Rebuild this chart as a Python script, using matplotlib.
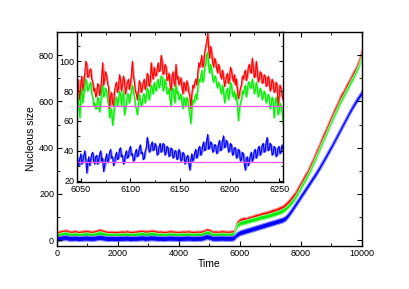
import numpy as np
import matplotlib
matplotlib.use("Agg")
import matplotlib.pyplot as plt
from matplotlib.ticker import MultipleLocator

# main panel: centre of each noisy band every 100 time units
main_start, main_step = 0, 100
main_red = [29, 31, 34, 36, 31, 30, 33, 29, 31, 32,
            33, 30, 31, 34, 38, 35, 31, 29, 30, 28,
            29, 31, 30, 32, 29, 30, 31, 33, 34, 31,
            32, 35, 33, 30, 31, 29, 30, 32, 31, 30,
            29, 31, 30, 32, 30, 29, 31, 30, 33, 40,
            38, 30, 31, 30, 32, 31, 30, 31, 33, 72,
            84, 88, 87, 93, 96, 101, 104, 109, 112, 115,
            120, 125, 128, 135, 140, 152, 165, 182, 198, 222,
            245, 270, 291, 320, 347, 380, 409, 443, 470, 502,
            532, 562, 589, 620, 641, 668, 691, 718, 741, 775, 818]
main_green = [21, 23, 26, 28, 23, 22, 25, 21, 23, 24,
              25, 22, 23, 26, 30, 27, 23, 21, 22, 20,
              21, 23, 22, 24, 21, 22, 23, 25, 26, 23,
              24, 27, 25, 22, 23, 21, 22, 24, 23, 22,
              21, 23, 22, 24, 22, 21, 23, 22, 25, 32,
              30, 22, 23, 22, 24, 23, 22, 23, 25, 62,
              74, 77, 80, 84, 88, 91, 95, 99, 102, 105,
              109, 113, 117, 122, 128, 137, 150, 165, 183, 205,
              229, 252, 276, 302, 331, 360, 392, 422, 452, 482,
              514, 543, 572, 600, 625, 650, 676, 700, 726, 756, 798]
main_blue = [7, 8, 10, 11, 8, 8, 9, 7, 8, 9,
             9, 8, 8, 10, 12, 10, 8, 7, 8, 7,
             7, 8, 8, 9, 7, 8, 8, 9, 10, 8,
             9, 10, 9, 8, 8, 7, 8, 9, 8, 8,
             7, 8, 8, 9, 8, 7, 8, 8, 10, 15,
             13, 8, 8, 8, 9, 8, 8, 8, 10, 24,
             32, 36, 40, 44, 48, 52, 56, 60, 64, 68,
             72, 76, 80, 84, 88, 96, 112, 130, 150, 170,
             190, 210, 230, 250, 270, 290, 312, 335, 358, 382,
             405, 430, 455, 480, 505, 530, 555, 578, 600, 620, 640]
band_half = {"red": 11, "green": 9, "blue": 11}

# inset: one sample per time unit starting at 6046
inset_start, inset_step = 6046, 1
inset_red = [82, 88, 78, 74, 86, 90, 80, 85, 92, 100, 98, 89, 90, 94, 95, 88, 86, 80, 82, 76,
             78, 85, 84, 77, 80, 90, 99, 84, 88, 93, 90, 85, 82, 68, 76, 79, 72, 70, 80, 84,
             86, 79, 82, 91, 88, 80, 84, 90, 87, 78, 82, 86, 88, 81, 85, 91, 100, 90, 86, 80,
             78, 74, 80, 87, 85, 79, 82, 86, 88, 81, 84, 92, 90, 83, 86, 99, 92, 88, 96, 91,
             90, 95, 99, 93, 94, 104, 100, 91, 92, 98, 96, 87, 88, 92, 84, 80, 90, 93, 86, 83,
             98, 88, 90, 84, 86, 89, 82, 78, 86, 83, 80, 87, 84, 79, 76, 68, 78, 84, 82, 86,
             88, 84, 92, 99, 96, 100, 104, 96, 98, 106, 110, 113, 119, 108, 102, 110, 106, 99, 96, 102,
             100, 95, 92, 98, 95, 90, 88, 94, 90, 83, 86, 90, 92, 85, 88, 96, 94, 89, 86, 91,
             84, 88, 80, 75, 78, 82, 84, 90, 88, 92, 94, 87, 90, 96, 98, 93, 92, 102, 96, 89,
             90, 100, 94, 86, 88, 93, 92, 85, 86, 91, 90, 83, 84, 90, 88, 80, 82, 88, 86, 79,
             80, 86, 84, 70, 76, 84, 82, 77, 74]
inset_green = [74, 78, 70, 62, 76, 82, 72, 78, 82, 88, 86, 80, 82, 84, 86, 78, 76, 70, 72, 68,
               68, 76, 74, 66, 72, 80, 84, 76, 78, 82, 80, 74, 70, 62, 66, 68, 57, 62, 70, 74,
               76, 70, 74, 80, 78, 70, 76, 80, 64, 68, 72, 78, 78, 72, 76, 80, 84, 80, 76, 70,
               68, 64, 70, 78, 74, 70, 72, 78, 78, 72, 76, 82, 80, 74, 78, 84, 82, 78, 86, 82,
               80, 86, 88, 82, 84, 90, 90, 80, 82, 88, 84, 78, 78, 82, 74, 70, 80, 82, 76, 72,
               84, 78, 80, 74, 76, 78, 72, 68, 76, 72, 70, 76, 74, 68, 64, 58, 68, 74, 72, 76,
               78, 74, 82, 88, 86, 90, 94, 86, 88, 96, 98, 104, 106, 96, 92, 98, 94, 88, 86, 90,
               90, 84, 82, 86, 84, 80, 78, 84, 80, 72, 76, 80, 82, 74, 78, 86, 84, 78, 76, 80,
               74, 78, 70, 60, 68, 72, 74, 80, 78, 82, 84, 76, 80, 86, 86, 82, 82, 88, 84, 78,
               80, 86, 82, 76, 78, 82, 80, 74, 76, 80, 78, 72, 74, 78, 76, 68, 70, 76, 74, 62,
               70, 76, 72, 64, 66, 72, 70, 66, 58]
inset_blue = [36, 33, 30, 35, 38, 31, 33, 37, 40, 34, 25, 32, 36, 30, 34, 38, 39, 33, 31, 36,
              37, 31, 33, 38, 40, 33, 35, 26, 30, 35, 38, 32, 34, 39, 41, 35, 36, 30, 32, 37,
              39, 34, 35, 41, 42, 36, 37, 31, 33, 38, 40, 35, 36, 41, 43, 37, 38, 33, 34, 39,
              41, 36, 37, 42, 44, 38, 39, 34, 35, 40, 42, 49, 45, 39, 40, 44, 46, 40, 41, 45,
              43, 37, 38, 43, 45, 39, 40, 45, 44, 37, 39, 43, 42, 36, 37, 42, 41, 35, 36, 40,
              40, 34, 35, 41, 39, 33, 34, 39, 38, 31, 33, 36, 37, 31, 27, 34, 38, 33, 35, 39,
              41, 35, 37, 42, 43, 37, 39, 44, 46, 40, 41, 47, 51, 41, 42, 46, 45, 39, 40, 44,
              44, 38, 39, 45, 47, 40, 41, 47, 50, 42, 43, 47, 45, 39, 40, 45, 44, 37, 38, 42,
              42, 35, 36, 41, 40, 33, 34, 39, 38, 31, 27, 35, 36, 30, 33, 37, 39, 33, 35, 40,
              41, 35, 37, 42, 43, 37, 39, 44, 45, 39, 40, 46, 49, 40, 41, 45, 44, 37, 38, 43,
              42, 36, 37, 42, 43, 38, 39, 44, 41]
thresholds = [70, 32.5]

COLORS = {"red": "#ff0000", "green": "#00ee00", "blue": "#0000ff"}
PALE = {"red": "#ff8a8a", "green": "#8af58a", "blue": "#8a8aff"}
plt.rcParams["font.family"] = ["Liberation Sans", "DejaVu Sans"]


def envelope(v, k=3):
    # running min / max of the samples, so the dense noise reads as a filled band
    p = np.pad(np.asarray(v, dtype=float), k // 2, mode="edge")
    w = np.lib.stride_tricks.sliding_window_view(p, k)
    return w.min(axis=1), w.max(axis=1)


fig = plt.figure(figsize=(4.09, 2.89), dpi=100)
ax = fig.add_axes([0.139, 0.149, 0.746, 0.740])
for name, vals in (("red", main_red), ("green", main_green), ("blue", main_blue)):
    v = np.array(vals, dtype=float)
    t = main_start + main_step * np.arange(len(v))
    ax.fill_between(t, v - band_half[name], v + band_half[name], facecolor=COLORS[name],
                    edgecolor=PALE[name], lw=0.8)
ax.set_xlim(0, 10000)
ax.set_ylim(-25, 900)
ax.xaxis.set_major_locator(MultipleLocator(2000))
ax.xaxis.set_minor_locator(MultipleLocator(1000))
ax.yaxis.set_major_locator(MultipleLocator(200))
ax.yaxis.set_minor_locator(MultipleLocator(100))
ax.tick_params(which="both", direction="in", top=True, right=True, labelsize=6.5, pad=2)
ax.tick_params(which="major", length=3.5)
ax.tick_params(which="minor", length=2)
ax.set_xlabel("Time", fontsize=7.5, labelpad=1)
ax.set_ylabel("Nucleous size", fontsize=7.5, labelpad=2)
for s in ax.spines.values():
    s.set_linewidth(1.0)

ins = fig.add_axes([0.188, 0.370, 0.504, 0.519])
for name, vals in (("red", inset_red), ("green", inset_green), ("blue", inset_blue)):
    ti = inset_start + inset_step * np.arange(len(vals))
    lo, hi = envelope(vals)
    ins.fill_between(ti, lo, hi, color=PALE[name], lw=0)
    ins.plot(ti, vals, color=COLORS[name], lw=0.8)
for y in thresholds:
    ins.axhline(y, color="#ff55ff", lw=0.9)
ins.set_xlim(6046, 6254)
ins.set_ylim(19, 119.5)
ins.xaxis.set_major_locator(MultipleLocator(50))
ins.xaxis.set_minor_locator(MultipleLocator(25))
ins.yaxis.set_major_locator(MultipleLocator(20))
ins.yaxis.set_minor_locator(MultipleLocator(10))
ins.tick_params(which="both", direction="in", top=True, right=True, labelsize=6.5, pad=2)
ins.tick_params(which="major", length=3)
ins.tick_params(which="minor", length=1.8)
for s in ins.spines.values():
    s.set_linewidth(1.0)

fig.savefig("out.png", dpi=100)
